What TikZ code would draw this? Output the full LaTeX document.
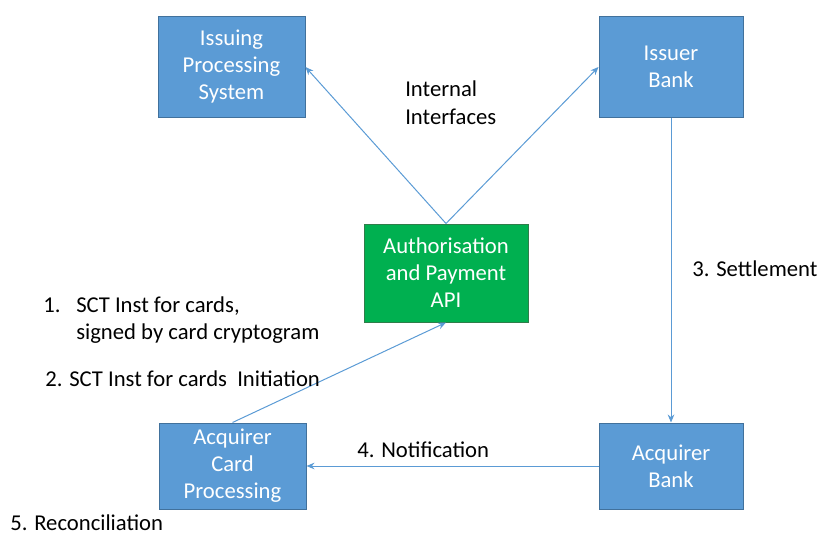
\documentclass[tikz,border=0pt]{standalone}
\usepackage{fontspec}
\setmainfont{Carlito}
\usetikzlibrary{arrows.meta}
\definecolor{boxblue}{HTML}{5B9BD5}
\definecolor{boxedge}{HTML}{41719C}
\definecolor{apigreen}{HTML}{00B050}
\definecolor{apiedge}{HTML}{2F7D4A}
\definecolor{linkblue}{HTML}{5B9BD5}
\begin{document}
\begin{tikzpicture}[x=0.75pt,y=-0.75pt,
  every node/.style={font=\fontsize{17}{20.25}\selectfont},
  bluebox/.style={draw=boxedge,fill=boxblue,line width=0.75pt,text=white,align=center,inner sep=0pt},
  greenbox/.style={draw=apiedge,fill=apigreen,line width=0.75pt,text=white,align=center,inner sep=0pt},
  link/.style={draw=linkblue,line width=0.75pt,-{Stealth[length=6pt,width=5pt]}},
  lbl/.style={anchor=base west,inner sep=0pt,text=black}]
\useasboundingbox (0,0) rectangle (817,535);
\node[bluebox,minimum width=110.25pt,minimum height=75pt] (ips) at (231.5,67) {Issuing\\Processing\\System};
\node[bluebox,minimum width=108pt,minimum height=75pt] (ib) at (671,67) {Issuer\\Bank};
\node[greenbox,minimum width=123pt,minimum height=73.5pt] (api) at (446,273) {Authorisation\\and Payment\\API};
\node[bluebox,minimum width=110.25pt,minimum height=64.5pt] (acp) at (232.5,466) {Acquirer\\Card\\Processing};
\node[bluebox,minimum width=108pt,minimum height=64.5pt] (ab) at (671,466) {Acquirer\\Bank};

\draw[link] (api.north) -- (ips.east);
\draw[link] (api.north) -- (ib.west);
\draw[link] (ib.south) -- (ab.north);
\draw[link] (ab.west) -- (acp.east);
\draw[link] (acp.north) -- (api.south);

\node[lbl] (t1) at (405,97) {Internal};
\node[lbl] (t2) at (405,124) {Interfaces};
\node[lbl] (t3) at (692,276) {3. Settlement};
\node[lbl] (t4a) at (43,312) {1.};
\node[lbl] (t4b) at (76,312) {SCT Inst for cards,};
\node[lbl] (t4c) at (76,339) {signed by card cryptogram};
\node[lbl] (t5) at (45,386) {2. SCT Inst for cards\ \ Initiation};
\node[lbl] (t6) at (357,457) {4. Notification};
\node[lbl] (t7) at (10,530.5) {5. Reconciliation};
\end{tikzpicture}
\end{document}
